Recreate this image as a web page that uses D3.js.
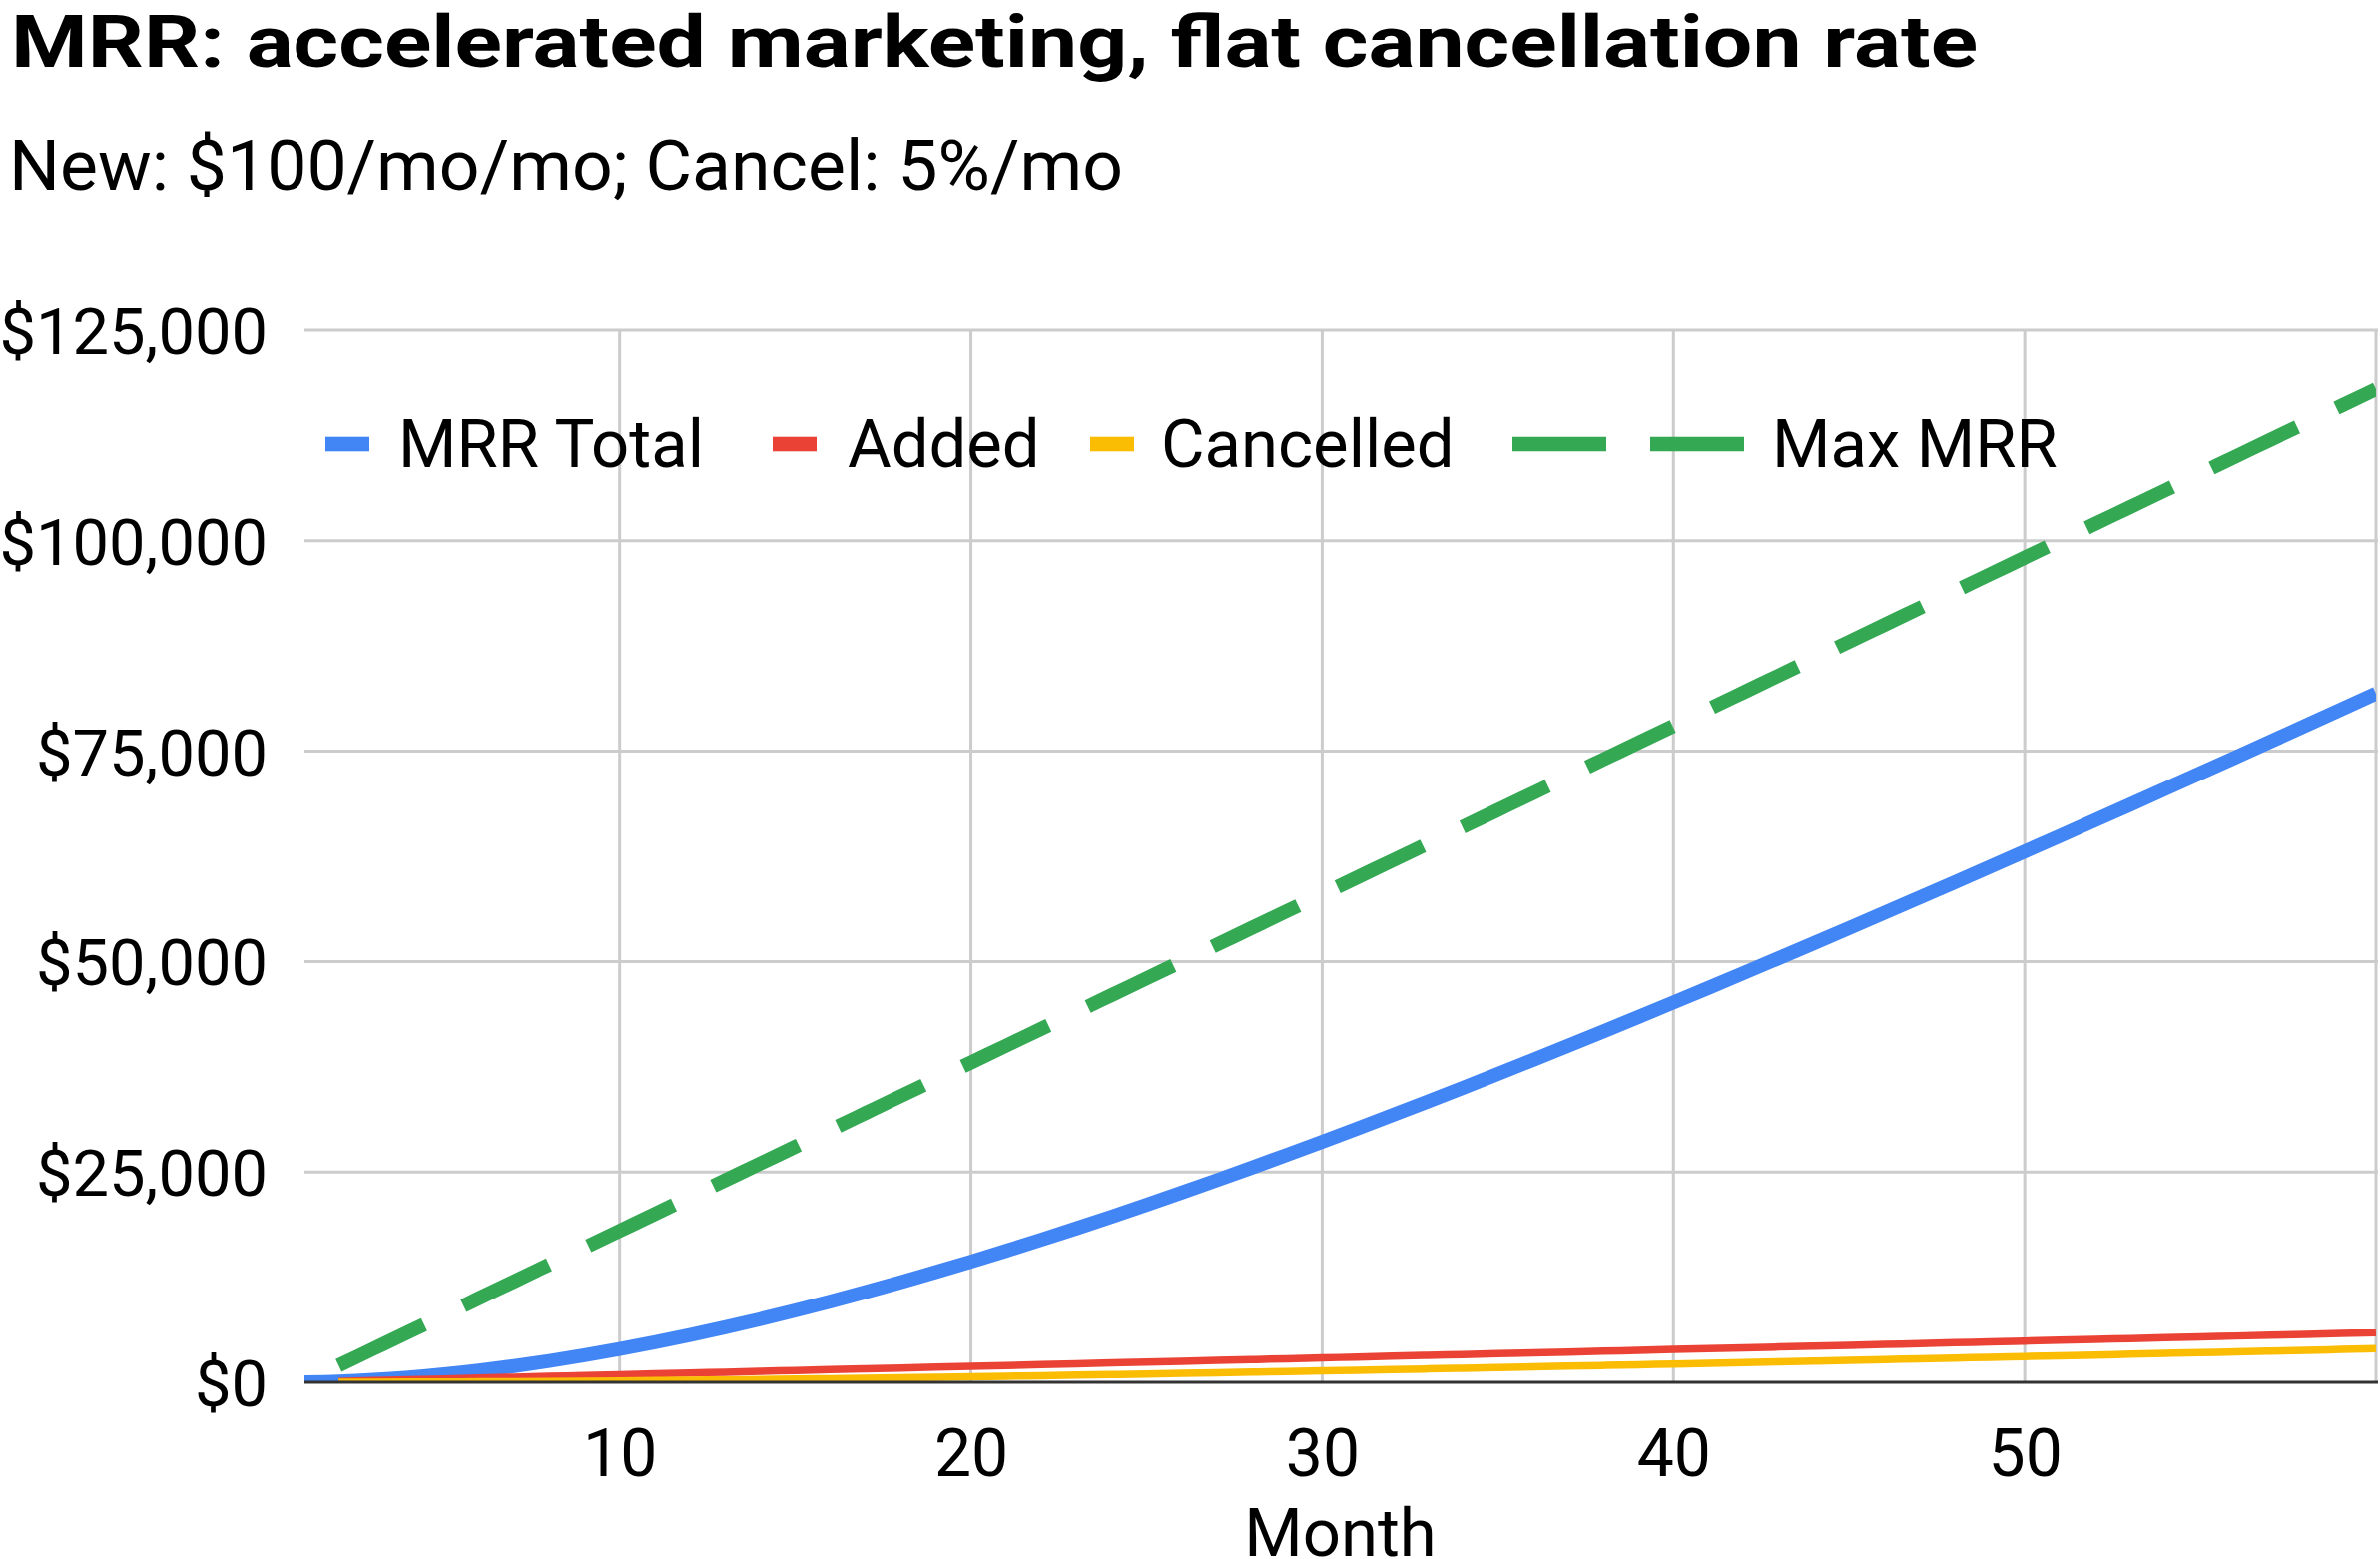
<!DOCTYPE html>
<html><head><meta charset="utf-8">
<script src="https://cdn.jsdelivr.net/npm/d3@7"></script>
<style>
html,body{margin:0;padding:0;background:#fff;}
svg{display:block;font-family:Roboto, Arial, sans-serif;}
</style>
</head><body>
<svg id="chart" width="2384" height="1562"></svg>
<script>
// ---- data ----
const chartTitle = "MRR: accelerated marketing, flat cancellation rate";
const chartSubtitle = "New: $100/mo/mo; Cancel: 5%/mo";
const xAxisTitle = "Month";
const seriesNames = ["MRR Total", "Added", "Cancelled", "Max MRR"];
const seriesColors = ["#4285F4", "#EA4335", "#FBBC04", "#34A853"];
const months = [1,2,3,4,5,6,7,8,9,10,11,12,13,14,15,16,17,18,19,20,21,22,23,24,25,26,27,28,29,30,
  31,32,33,34,35,36,37,38,39,40,41,42,43,44,45,46,47,48,49,50,51,52,53,54,55,56,57,58,59,60];
const mrrTotal = [0,100,295,580,951,1404,1933,2537,3210,3949,4752,5614,6534,7507,8532,9605,10725,11889,13094,14339,
  15622,16941,18294,19680,21096,22541,24014,25513,27037,28586,30156,31748,33361,34993,36643,38311,39996,41696,43411,45140,
  46883,48639,50407,52187,53978,55779,57590,59410,61240,63078,64924,66778,68639,70507,72382,74262,76149,78042,79940,81843];
const added = [null,100,200,300,400,500,600,700,800,900,1000,1100,1200,1300,1400,1500,1600,1700,1800,1900,
  2000,2100,2200,2300,2400,2500,2600,2700,2800,2900,3000,3100,3200,3300,3400,3500,3600,3700,3800,3900,
  4000,4100,4200,4300,4400,4500,4600,4700,4800,4900,5000,5100,5200,5300,5400,5500,5600,5700,5800,5900];
const cancelled = [null,0,5,15,29,48,70,97,127,161,197,238,281,327,375,427,480,536,594,655,
  717,781,847,915,984,1055,1127,1201,1276,1352,1429,1508,1587,1668,1750,1832,1916,2000,2085,2171,
  2257,2344,2432,2520,2609,2699,2789,2879,2971,3062,3154,3246,3339,3432,3525,3619,3713,3807,3902,3997];
const maxMrr = [null,2000,4000,6000,8000,10000,12000,14000,16000,18000,20000,22000,24000,26000,28000,30000,32000,34000,36000,38000,
  40000,42000,44000,46000,48000,50000,52000,54000,56000,58000,60000,62000,64000,66000,68000,70000,72000,74000,76000,78000,
  80000,82000,84000,86000,88000,90000,92000,94000,96000,98000,100000,102000,104000,106000,108000,110000,112000,114000,116000,118000];
const yTicks = [0, 25000, 50000, 75000, 100000, 125000];
const xGridTicks = [10, 20, 30, 40, 50, 60];
const xLabelTicks = [10, 20, 30, 40, 50];

// ---- layout ----
const plotLeft = 305, plotRight = 2380, plotTop = 331, plotBottom = 1385;
const svg = d3.select("#chart");
const x = d3.scaleLinear().domain([1, 60]).range([304, 2380]);
const y = d3.scaleLinear().domain([0, 125000]).range([plotBottom, plotTop]);
const fmt = v => "$" + d3.format(",")(v);

// titles
svg.append("text").attr("x", 11).attr("y", 67)
  .attr("font-size", 72).attr("font-weight", 700).attr("fill", "#000")
  .attr("textLength", 1970).attr("lengthAdjust", "spacingAndGlyphs").text(chartTitle);
svg.append("text").attr("x", 9).attr("y", 190)
  .attr("font-size", 70).attr("fill", "#000")
  .attr("textLength", 1116).attr("lengthAdjust", "spacingAndGlyphs").text(chartSubtitle);

// gridlines
const grid = svg.append("g");
grid.selectAll("line.h").data(yTicks.filter(d => d > 0)).join("line")
  .attr("x1", plotLeft).attr("x2", plotRight + 2)
  .attr("y1", d => y(d)).attr("y2", d => y(d))
  .attr("stroke", "#cccccc").attr("stroke-width", 3);
grid.selectAll("line.v").data(xGridTicks).join("line")
  .attr("x1", d => x(d)).attr("x2", d => x(d))
  .attr("y1", plotTop).attr("y2", plotBottom)
  .attr("stroke", "#cccccc").attr("stroke-width", 3);

// y axis labels via d3 axis
const yAxis = d3.axisLeft(y).tickValues(yTicks).tickFormat(fmt).tickSize(0).tickPadding(0);
const yg = svg.append("g").attr("transform", "translate(268,0)").call(yAxis);
yg.select(".domain").remove();
yg.selectAll("text").attr("font-size", 65).attr("font-family", "Roboto, Arial, sans-serif")
  .attr("fill", "#000").attr("x", 0).attr("dy", "0.36em");

// x axis labels
const xAxis = d3.axisBottom(x).tickValues(xLabelTicks).tickFormat(d3.format("d")).tickSize(0).tickPadding(0);
const xg = svg.append("g").call(xAxis);
xg.select(".domain").remove();
xg.selectAll("text").attr("font-size", 66).attr("font-family", "Roboto, Arial, sans-serif")
  .attr("fill", "#000").attr("y", 1479).attr("dy", null);

svg.append("text").attr("x", (plotLeft + plotRight) / 2).attr("y", 1559)
  .attr("text-anchor", "middle").attr("font-size", 67).attr("fill", "#000").text(xAxisTitle);

// clip
svg.append("clipPath").attr("id", "plotclip").append("rect")
  .attr("x", plotLeft).attr("y", 0).attr("width", plotRight - plotLeft).attr("height", plotBottom);

const seriesData = [mrrTotal, added, cancelled, maxMrr];
const widths = [14, 7.5, 7.5, 14];
const lines = svg.append("g").attr("clip-path", "url(#plotclip)");
seriesData.forEach((vals, i) => {
  const pts = months.map((m, k) => [m, vals[k]]);
  const line = d3.line().defined(d => d[1] !== null).x(d => x(d[0])).y(d => y(d[1])).curve(d3.curveMonotoneX);
  const p = lines.append("path").datum(pts).attr("d", line)
    .attr("fill", "none").attr("stroke", seriesColors[i]).attr("stroke-width", widths[i])
    .attr("stroke-linejoin", "round");
  if (i === 3) p.attr("stroke-dasharray", "95,43.7");
});

// baseline
svg.append("line").attr("x1", plotLeft).attr("x2", plotRight + 2)
  .attr("y1", plotBottom).attr("y2", plotBottom)
  .attr("stroke", "#333333").attr("stroke-width", 3);

const legendMarkerX = [326, 774, 1092, 1515];
const legendTextX = [399, 849, 1163, 1775];
const legend = svg.append("g");
const ly = 445;
seriesNames.forEach((name, i) => {
  const lx = legendMarkerX[i];
  if (i === 3) {
    legend.append("line").attr("x1", lx).attr("x2", lx + 232).attr("y1", ly).attr("y2", ly)
      .attr("stroke", seriesColors[i]).attr("stroke-width", 14.6).attr("stroke-dasharray", "94,44");
  } else {
    legend.append("rect").attr("x", lx).attr("y", ly - 7.3).attr("width", 44).attr("height", 14.6)
      .attr("fill", seriesColors[i]);
  }
  legend.append("text").attr("x", legendTextX[i]).attr("y", 468.3).attr("font-size", 67)
    .attr("fill", "#000").text(name);
});
</script>
</body></html>
